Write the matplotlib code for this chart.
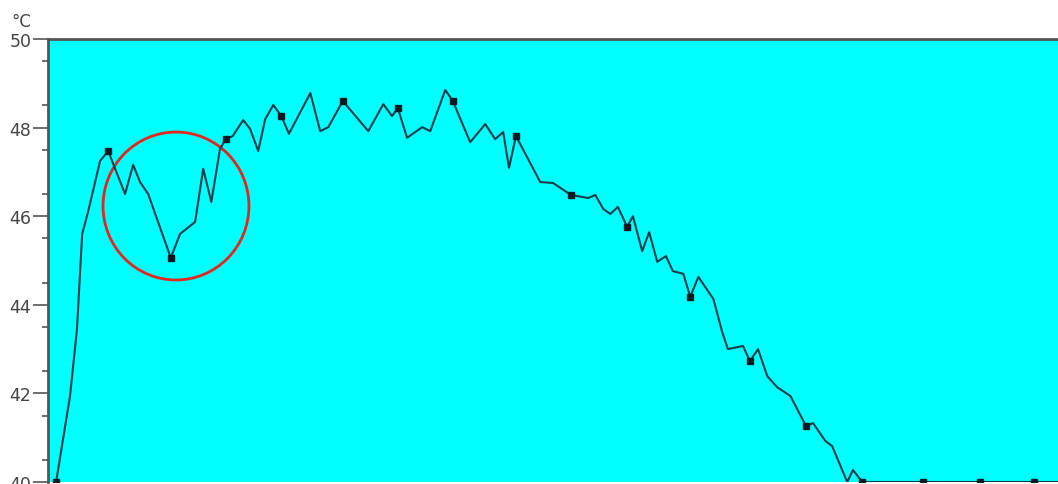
import matplotlib
matplotlib.use("Agg")
import matplotlib.pyplot as plt
from matplotlib.patches import Ellipse

# Elapsed time (min) and temperature (°C) of the logged curve
time_min = [1.4, 3.8, 5.0, 5.9, 6.9, 9.0, 10.4, 13.3, 14.7, 15.9, 17.3, 21.2,
            22.8, 25.4, 26.8, 28.2, 29.7, 30.7, 31.9, 33.7, 34.9, 36.3, 37.5,
            38.9, 40.3, 41.6, 45.3, 47.0, 48.4, 50.9, 55.3, 57.9, 59.4, 60.4,
            62.0, 64.6, 66.0, 68.6, 69.9, 72.9, 75.5, 77.2, 78.6, 79.6, 80.8,
            85.0, 87.2, 90.3, 93.3, 94.5, 95.9, 97.1, 98.4, 100.0, 101.0,
            102.6, 103.8, 105.2, 106.7, 107.9, 109.7, 110.9, 112.3, 114.9,
            116.4, 117.4, 120.0, 121.2, 122.6, 124.2, 125.9, 128.2, 130.9,
            132.1, 134.2, 135.4, 138.0, 139.0, 140.6, 151.1, 161.0, 170.3, 174.4]
temp_c = [40.00, 41.94, 43.45, 45.60, 46.09, 47.25, 47.47, 46.50, 47.16, 46.77,
          46.50, 45.06, 45.60, 45.87, 47.07, 46.32, 47.52, 47.74, 47.81, 48.17,
          47.97, 47.47, 48.19, 48.51, 48.26, 47.86, 48.78, 47.92, 48.01, 48.60,
          47.92, 48.53, 48.26, 48.44, 47.77, 48.01, 47.92, 48.85, 48.60, 47.67,
          48.08, 47.74, 47.90, 47.09, 47.81, 46.77, 46.75, 46.48, 46.41, 46.48,
          46.16, 46.05, 46.21, 45.76, 46.00, 45.21, 45.64, 44.97, 45.10, 44.76,
          44.70, 44.18, 44.63, 44.13, 43.39, 43.00, 43.07, 42.73, 43.00, 42.39,
          42.14, 41.94, 41.26, 41.33, 40.93, 40.81, 40.00, 40.27, 40.00, 40.00,
          40.00, 40.00, 40.00]
# Indices of the logged samples shown with a square marker
sample_idx = [0, 6, 11, 17, 24, 29, 33, 38, 44, 47, 53, 61, 67, 72, 78, 79, 80, 81]

y_ticks = [40, 42, 44, 46, 48, 50]

fig = plt.figure(figsize=(10.58, 4.85), dpi=100)
ax = fig.add_axes([48 / 1058, 2 / 485, 1 - 48 / 1058, 1 - 42 / 485])
ax.set_facecolor("#00ffff")

ax.plot(time_min, temp_c, color="#123e4c", lw=1.5, marker="s", ms=4.5,
        markevery=sample_idx, mfc="#0a1a22", mec="#0a1a22")

# Highlighted dip
ax.add_patch(Ellipse((22.1, 46.23), 25.2, 3.34, fill=False,
                     ec="#e5261c", lw=2.0))

ax.set_xlim(0, 174.4)
ax.set_ylim(40, 50)
ax.set_yticks(y_ticks)
ax.set_yticks([v + 0.5 for v in range(40, 50)], minor=True)
ax.set_xticks([])
ax.tick_params(axis="y", which="major", length=11, width=1.2,
               color="#555555", labelsize=12.5, labelcolor="#444444", pad=1)
ax.tick_params(axis="y", which="minor", length=4, width=1.2, color="#555555")

for side in ("left", "top"):
    ax.spines[side].set_color("#555555")
    ax.spines[side].set_linewidth(2)
for side in ("right", "bottom"):
    ax.spines[side].set_visible(False)

fig.text(11 / 1058, 1 - 22 / 485, "°C", fontsize=12, color="#444444",
         ha="left", va="center")

fig.savefig("out.png", dpi=100)
